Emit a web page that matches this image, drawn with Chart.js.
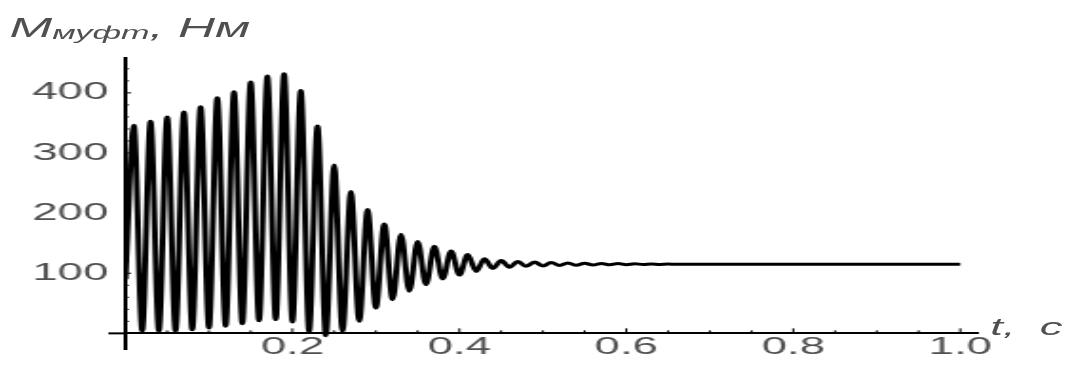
<!DOCTYPE html>
<html>
<head>
<meta charset="utf-8">
<script src="https://cdn.jsdelivr.net/npm/chart.js@4/dist/chart.umd.min.js"></script>
<style>
  html, body { margin: 0; padding: 0; background: #fff; overflow: hidden; }
  #stage { position: relative; width: 564px; height: 365px; transform: scaleX(1.9007); transform-origin: 0 0; }
  #stage canvas { position: absolute; left: 0; top: 0; }
  .lbl { position: absolute; font-family: 'Liberation Sans', Arial, sans-serif; font-style: italic; color: #505050; white-space: nowrap; line-height: 1; }
</style>
</head>
<body>
<div id="stage">
  <canvas id="torqueChart" width="564" height="365"></canvas>
  <div class="lbl" style="left:5px; top:15px; font-size:27px;">M<span style="font-size:18px; vertical-align:-2px;">муфт</span>, Нм</div>
  <div class="lbl" style="left:521px; top:315px; font-size:24px; word-spacing:6px;">t, c</div>
</div>
<script>
// turning points of the coupling torque, t in seconds
const times = [
  0.00, 0.01, 0.02, 0.03, 0.04, 0.05, 0.06, 0.07, 0.08, 0.09,
  0.10, 0.11, 0.12, 0.13, 0.14, 0.15, 0.16, 0.17, 0.18, 0.19,
  0.20, 0.21, 0.22, 0.23, 0.24, 0.25, 0.26, 0.27, 0.28, 0.29,
  0.30, 0.31, 0.32, 0.33, 0.34, 0.35, 0.36, 0.37, 0.38, 0.39,
  0.40, 0.41, 0.42, 0.43, 0.44, 0.45, 0.46, 0.47, 0.48, 0.49,
  0.50, 0.51, 0.52, 0.53, 0.54, 0.55, 0.56, 0.57, 0.58, 0.59,
  0.60, 0.61, 0.62, 0.63, 0.64, 0.65, 0.66, 1.00
];
// torque, N*m
const torque = [
  90, 346, 4, 353, 4, 360, 4, 368, 6, 377,
  9, 392, 12, 402, 16, 418, 21, 428, 23, 432,
  19, 404, 3, 345, -4, 280, 3, 236, 20, 206,
  42, 182, 56, 165, 70, 153, 81, 145, 90.5, 137,
  97, 131, 103, 124, 108, 121, 110, 119.5, 111.5, 118.5,
  112.2, 117.8, 112.8, 117.2, 113.3, 116.7, 113.7, 116.3, 114, 116,
  114.3, 115.7, 114.5, 115.4, 114.7, 115.2, 115, 115
];
const xTicks = [0.2, 0.4, 0.6, 0.8, 1.0];
const yTicks = [100, 200, 300, 400];

// small tick marks drawn inside the axes, plus the short stub of the
// time axis left of the origin
const innerTicks = {
  id: 'innerTicks',
  afterDraw(chart) {
    const { ctx, scales: { x, y } } = chart;
    const x0 = x.getPixelForValue(0);
    const y0 = y.getPixelForValue(0);
    ctx.save();
    ctx.strokeStyle = '#000';
    ctx.lineWidth = 2;
    ctx.beginPath();
    ctx.moveTo(x0 - 9, y0);
    ctx.lineTo(x0, y0);
    ctx.stroke();
    ctx.lineWidth = 1;
    ctx.beginPath();
    for (let i = 1; i <= 20; i++) {
      const px = x.getPixelForValue(i * 0.05);
      const len = i % 4 === 0 ? 5 : 3;
      ctx.moveTo(px, y0);
      ctx.lineTo(px, y0 - len);
    }
    for (let i = 1; i <= 22; i++) {
      const py = y.getPixelForValue(i * 20);
      const len = i % 5 === 0 ? 3 : 1.8;
      ctx.moveTo(x0, py);
      ctx.lineTo(x0 + len, py);
    }
    ctx.stroke();
    ctx.restore();
  }
};

const tickFont = { family: "'Liberation Sans', Arial, sans-serif", size: 24 };

new Chart(document.getElementById('torqueChart'), {
  type: 'line',
  data: {
    datasets: [{
      data: times.map((t, i) => ({ x: t, y: torque[i] })),
      borderColor: '#000',
      borderWidth: 3,
      borderJoinStyle: 'round',
      pointRadius: 0,
      cubicInterpolationMode: 'monotone',
      fill: false
    }]
  },
  options: {
    responsive: false,
    animation: false,
    events: [],
    layout: { padding: { left: 0, right: 50, top: 58, bottom: 16 } },
    plugins: { legend: { display: false }, tooltip: { enabled: false } },
    scales: {
      x: {
        type: 'linear',
        min: 0,
        max: 1.02,
        position: { y: 0 },
        afterFit: s => { s.height = 0; s.paddingLeft = 0; s.paddingRight = 0; },
        afterBuildTicks: s => { s.ticks = xTicks.map(v => ({ value: v })); },
        grid: { drawOnChartArea: false, drawTicks: false },
        border: { color: '#000', width: 2 },
        ticks: { padding: 0, color: '#505050', font: tickFont, maxRotation: 0, autoSkip: false,
                 callback: v => v.toFixed(1) }
      },
      y: {
        type: 'linear',
        min: -26,
        max: 458,
        position: 'left',
        afterFit: s => { s.width = 66; s.paddingTop = 0; s.paddingBottom = 0; },
        afterBuildTicks: s => { s.ticks = yTicks.map(v => ({ value: v })); },
        grid: { drawOnChartArea: false, drawTicks: false },
        border: { color: '#000', width: 2 },
        ticks: { padding: 9, color: '#505050', font: tickFont, autoSkip: false }
      }
    }
  },
  plugins: [innerTicks]
});
</script>
</body>
</html>
